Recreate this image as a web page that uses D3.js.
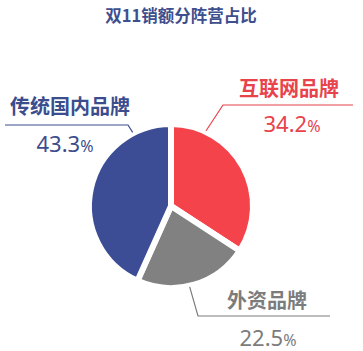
<!DOCTYPE html>
<html>
<head>
<meta charset="utf-8">
<script src="https://cdn.jsdelivr.net/npm/d3@7"></script>
<style>
  body { margin: 0; background: #fff; }
  text { font-family: "Noto Sans CJK SC", "Noto Sans", sans-serif; }
</style>
</head>
<body>
<script>
var title = "双11销额分阵营占比";
var names = ["互联网品牌", "外资品牌", "传统国内品牌"];
var shares = [34.2, 22.5, 43.3];
var colors = ["#f5434b", "#818181", "#3c4d96"];
var textColors = ["#e8434b", "#7c7c7c", "#3c4d8e"];

var width = 363, height = 351;
var cx = 171, cy = 206, radius = 82;

var svg = d3.select("body").append("svg")
    .attr("width", width)
    .attr("height", height);

svg.append("text")
    .attr("x", 181).attr("y", 22)
    .attr("text-anchor", "middle")
    .attr("font-size", 16.5)
    .attr("font-weight", "bold")
    .attr("fill", "#3e4f8e")
    .text(title);

var pie = d3.pie().sort(null).value(d => d);
var arcs = pie(shares);
var arc = d3.arc().innerRadius(0).outerRadius(radius);

var g = svg.append("g").attr("transform", "translate(" + cx + "," + cy + ")");
g.selectAll("path")
    .data(arcs)
    .enter()
    .append("path")
    .attr("d", arc)
    .attr("fill", (d, i) => colors[i])
    .attr("stroke", "#fff")
    .attr("stroke-width", 6)
    .attr("stroke-linejoin", "round");

// label layout: leader angle on the rim, elbow, line end, text spots
var labels = [
    { ang: 25, elbow: [223, 105], end: 353, nx: 289, ny: 96, px: 292, py: 132 },
    { ang: 167, elbow: [198, 316], end: 330, nx: 267, ny: 308, px: 268, py: 346 },
    { ang: -27.5, elbow: [128, 125], end: 5, nx: 70, ny: 114, px: 65, py: 152 }
];

labels.forEach(function (l, i) {
    var a = l.ang * Math.PI / 180;
    var sx = cx + Math.sin(a) * (radius + 1),
        sy = cy - Math.cos(a) * (radius + 1);
    svg.append("polyline")
        .attr("points", [[sx, sy], l.elbow, [l.end, l.elbow[1]]].join(" "))
        .attr("fill", "none")
        .attr("stroke", textColors[i])
        .attr("stroke-width", 1.2);
    svg.append("text")
        .attr("x", l.nx).attr("y", l.ny)
        .attr("text-anchor", "middle")
        .attr("font-size", 20)
        .attr("font-weight", "bold")
        .attr("fill", textColors[i])
        .text(names[i]);
    var t = svg.append("text")
        .attr("x", l.px).attr("y", l.py)
        .attr("text-anchor", "middle")
        .attr("fill", textColors[i])
        .style("font-family", "'Noto Sans', sans-serif");
    t.append("tspan").attr("font-size", 22).text(shares[i].toFixed(1));
    t.append("tspan").attr("font-size", 16).text("%");
});
</script>
</body>
</html>
